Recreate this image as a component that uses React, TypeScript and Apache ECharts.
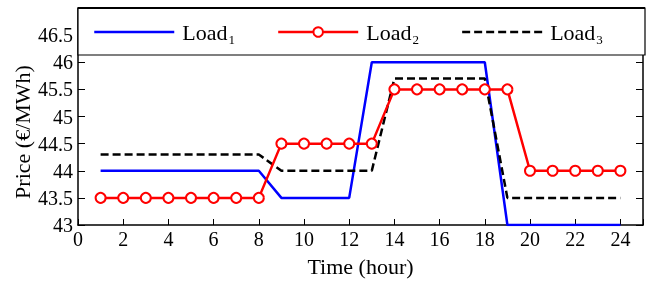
import React, { useEffect, useRef } from "react";
import * as echarts from "echarts";

const hours = [1, 2, 3, 4, 5, 6, 7, 8, 9, 10, 11, 12, 13, 14, 15, 16, 17, 18, 19, 20, 21, 22, 23, 24];
const load1 = [44, 44, 44, 44, 44, 44, 44, 44, 43.5, 43.5, 43.5, 43.5, 46, 46, 46, 46, 46, 46, 43, 43, 43, 43, 43, 43];
const load2 = [43.5, 43.5, 43.5, 43.5, 43.5, 43.5, 43.5, 43.5, 44.5, 44.5, 44.5, 44.5, 44.5, 45.5, 45.5, 45.5, 45.5, 45.5, 45.5, 44, 44, 44, 44, 44];
const load3 = [44.3, 44.3, 44.3, 44.3, 44.3, 44.3, 44.3, 44.3, 44, 44, 44, 44, 44, 45.7, 45.7, 45.7, 45.7, 45.7, 43.5, 43.5, 43.5, 43.5, 43.5, 43.5];
const seriesNames = ["Load1", "Load2", "Load3"];
const xTitle = "Time (hour)";
const yTitle = "Price (€/MWh)";

const FONT = "'Liberation Serif', 'Times New Roman', serif";

export default function App() {
  const ref = useRef<HTMLDivElement>(null);
  useEffect(() => {
    if (!ref.current) return;
    const chart = echarts.init(ref.current, undefined, { renderer: "svg" });
    const pair = (arr: number[]) => hours.map((h, i) => [h, arr[i]]);
    const gl = 78, gt = 8, gr = 1, gb = 55;
    const W = 646;
    const hidden = { color: "rgba(0,0,0,0)", borderWidth: 0, opacity: 0 };
    chart.setOption({
      animation: false,
      textStyle: { fontFamily: FONT },
      grid: { left: gl, top: gt, right: gr, bottom: gb, containLabel: false },
      legend: {
        left: 93,
        top: 21,
        padding: 0,
        itemWidth: 80,
        itemHeight: 12,
        itemGap: 42,
        z: 10,
        lineStyle: { width: 2.5 },
        data: [
          { name: seriesNames[0], itemStyle: hidden, lineStyle: { width: 2.5 } },
          { name: seriesNames[1], lineStyle: { width: 2.5 } },
          { name: seriesNames[2], itemStyle: hidden, lineStyle: { width: 2.5 } },
        ],
        formatter: (n: string) => `{b|Load}{s|${n.slice(4)}}`,
        textStyle: {
          fontFamily: FONT,
          color: "#000",
          padding: [0, 0, 0, 3],
          rich: {
            b: { fontSize: 22, fontFamily: FONT, color: "#000" },
            s: { fontSize: 13, fontFamily: FONT, color: "#000", padding: [14, 0, 0, 1] },
          },
        },
      },
      xAxis: {
        type: "value",
        min: 0,
        max: 25,
        interval: 2,
        name: xTitle,
        nameLocation: "middle",
        nameGap: 30,
        nameTextStyle: { fontFamily: FONT, fontSize: 22, color: "#000" },
        axisLine: { show: true, onZero: false, lineStyle: { color: "#000", width: 1.5 } },
        axisTick: { show: true, inside: true, length: 6, lineStyle: { color: "#000" } },
        axisLabel: {
          fontFamily: FONT,
          fontSize: 20,
          color: "#000",
          margin: 4,
          formatter: (v: number) => (v > 24 ? "" : String(v)),
        },
        splitLine: { show: false },
      },
      yAxis: [
        {
          type: "value",
          min: 43,
          max: 47,
          interval: 0.5,
          axisLine: { show: true, onZero: false, lineStyle: { color: "#000", width: 1.5 } },
          axisTick: { show: true, inside: true, length: 7, lineStyle: { color: "#000" } },
          axisLabel: {
            fontFamily: FONT,
            fontSize: 20,
            color: "#000",
            margin: 5,
            formatter: (v: number) => (v > 46.6 ? "" : String(v)),
          },
          splitLine: { show: false },
        },
        {
          type: "value",
          min: 43,
          max: 47,
          interval: 0.5,
          position: "right",
          axisLine: { show: true, onZero: false, lineStyle: { color: "#000", width: 1.5 } },
          axisTick: { show: true, inside: true, length: 7, lineStyle: { color: "#000" } },
          axisLabel: { show: false },
          splitLine: { show: false },
        },
      ],
      graphic: [
        {
          type: "rect",
          z: 5,
          shape: { x: gl, y: gt, width: W - gl - gr, height: 47 },
          style: { fill: "#fff", stroke: "#000", lineWidth: 1.2 },
        },
        {
          type: "line",
          z: 6,
          shape: { x1: gl, y1: gt, x2: W - gr, y2: gt },
          style: { stroke: "#000", lineWidth: 2 },
        },
        {
          type: "text",
          z: 6,
          x: 22,
          y: 132,
          rotation: Math.PI / 2,
          style: {
            text: yTitle,
            fontFamily: FONT,
            fontSize: 22,
            fill: "#000",
            align: "center",
            verticalAlign: "middle",
          },
        },
      ],
      series: [
        {
          name: seriesNames[0],
          type: "line",
          data: pair(load1),
          symbol: "none",
          lineStyle: { color: "#0000ff", width: 2.5 },
          itemStyle: { color: "#0000ff" },
          z: 3,
        },
        {
          name: seriesNames[1],
          type: "line",
          data: pair(load2),
          symbol: "circle",
          symbolSize: 10,
          lineStyle: { color: "#ff0000", width: 2.5 },
          itemStyle: { color: "#fff", borderColor: "#ff0000", borderWidth: 2 },
          z: 4,
        },
        {
          name: seriesNames[2],
          type: "line",
          data: pair(load3),
          symbol: "none",
          lineStyle: { color: "#000", width: 2.5, type: [8, 4] },
          itemStyle: { color: "#000" },
          z: 3,
        },
      ],
    });
    return () => chart.dispose();
  }, []);
  return <div ref={ref} style={{ position: "fixed", left: 0, top: 0, width: 646, height: 282 }} />;
}
